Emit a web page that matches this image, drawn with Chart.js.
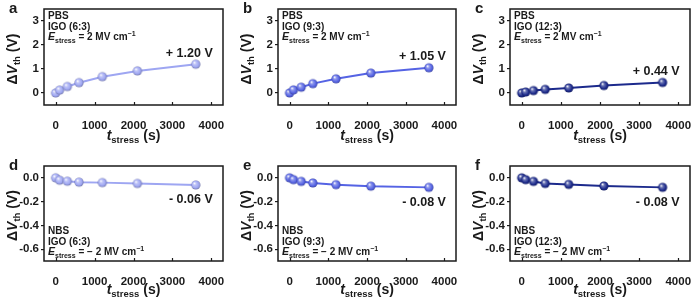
<!DOCTYPE html>
<html><head><meta charset="utf-8">
<script src="https://cdn.jsdelivr.net/npm/chart.js@4/dist/chart.umd.min.js"></script>
<style>
html,body{margin:0;padding:0;background:#fff;}
#wrap{position:relative;width:700px;height:301px;overflow:hidden;}
canvas{position:absolute;}
</style></head>
<body><div id="wrap">
<canvas id="ca" width="233" height="150" style="left:0;top:0"></canvas>
<canvas id="cb" width="232" height="150" style="left:234px;top:0"></canvas>
<canvas id="cc" width="234" height="150" style="left:466px;top:0"></canvas>
<canvas id="cd" width="233" height="144" style="left:0;top:157px"></canvas>
<canvas id="ce" width="232" height="144" style="left:234px;top:157px"></canvas>
<canvas id="cf" width="234" height="144" style="left:466px;top:157px"></canvas>
</div>
<script>
// ---- data ----
const stressTimes = [0, 100, 300, 600, 1200, 2100, 3600];
const pbs_6_3  = [0, 0.12, 0.27, 0.43, 0.68, 0.92, 1.20];
const pbs_9_3  = [0, 0.13, 0.24, 0.39, 0.59, 0.83, 1.05];
const pbs_12_3 = [0, 0.04, 0.10, 0.15, 0.21, 0.31, 0.44];
const nbs_6_3  = [0, -0.02, -0.028, -0.036, -0.04, -0.047, -0.06];
const nbs_9_3  = [0, -0.015, -0.03, -0.043, -0.057, -0.07, -0.08];
const nbs_12_3 = [0, -0.015, -0.03, -0.047, -0.055, -0.068, -0.08];
const xTicks = [0, 1000, 2000, 3000, 4000];
const yTicksPBS = [0, 1, 2, 3];
const yTicksNBS = [0, -0.2, -0.4, -0.6];
const finalLabels = ['+ 1.20 V', '+ 1.05 V', '+ 0.44 V', '- 0.06 V', '- 0.08 V', '- 0.08 V'];
const panelLetters = ['a', 'b', 'c', 'd', 'e', 'f'];
const ratios = ['IGO (6:3)', 'IGO (9:3)', 'IGO (12:3)'];

const colors = ['#9ea6f2', '#5563e4', '#1c2a8c'];
const FONT = '"Liberation Sans", Arial, sans-serif';
const INK = '#1a1a1a';

function mix(hex, t, target) {
  const n = parseInt(hex.slice(1), 16);
  const r = (n >> 16) & 255, g = (n >> 8) & 255, b = n & 255;
  const m = (c) => Math.round(c + (target - c) * t);
  return `rgb(${m(r)},${m(g)},${m(b)})`;
}
function makeSphere(color, r) {
  const c = document.createElement('canvas');
  const s = Math.ceil(r * 2 + 2);
  c.width = s; c.height = s;
  const x = c.getContext('2d');
  const cx = s / 2, cy = s / 2;
  const g = x.createRadialGradient(cx - r * 0.35, cy - r * 0.4, r * 0.05, cx, cy, r);
  g.addColorStop(0, '#ffffff');
  g.addColorStop(0.3, mix(color, 0.35, 255));
  g.addColorStop(0.75, color);
  g.addColorStop(1, mix(color, 0.3, 0));
  x.fillStyle = g;
  x.beginPath(); x.arc(cx, cy, r, 0, Math.PI * 2); x.fill();
  return c;
}

function drawRich(ctx, x, y, segs, align) {
  let total = 0;
  segs.forEach(s => { ctx.font = s.font; total += ctx.measureText(s.t).width; });
  let cx = align === 'center' ? x - total / 2 : (align === 'right' ? x - total : x);
  ctx.textAlign = 'left';
  segs.forEach(s => {
    ctx.font = s.font;
    ctx.fillText(s.t, cx, y + (s.dy || 0));
    cx += ctx.measureText(s.t).width;
  });
}

function makePanel(id, idx, values, isPBS) {
  const col = colors[idx % 3];
  const sphere = makeSphere(col, 4.6);
  const ctx = document.getElementById(id);
  const insetPlugin = {
    id: 'inset',
    afterDraw(chart) {
      const c = chart.ctx, a = chart.chartArea;
      c.save();
      // box
      c.strokeStyle = INK; c.lineWidth = 1.5;
      c.strokeRect(a.left, a.top, a.right - a.left, a.bottom - a.top);
      // inward x ticks
      const xs = chart.scales.x;
      c.lineWidth = 1.2;
      xTicks.forEach(v => {
        const px = Math.round(xs.getPixelForValue(v)) + 0.5;
        c.beginPath(); c.moveTo(px, a.bottom); c.lineTo(px, a.bottom - 3); c.stroke();
      });
      c.fillStyle = INK;
      c.textBaseline = 'alphabetic';
      // panel letter
      c.font = 'bold 15px ' + FONT;
      c.textAlign = 'left';
      c.fillText(panelLetters[idx], 9, 13);
      // inset text
      const bx = a.left + 4;
      const by = isPBS ? a.top + 10 : a.bottom - 27;
      c.font = 'bold 10px ' + FONT;
      c.fillText(isPBS ? 'PBS' : 'NBS', bx, by);
      c.fillText(ratios[idx % 3], bx, by + 10.5);
      drawRich(c, bx, by + 21, [
        {t: 'E', font: 'italic bold 10.5px ' + FONT},
        {t: 'stress', font: 'bold 7px ' + FONT, dy: 2.5},
        {t: isPBS ? ' = 2 MV cm' : ' = \u2212 2 MV cm', font: 'bold 10px ' + FONT},
        {t: '\u22121', font: 'bold 7px ' + FONT, dy: -4}
      ], 'left');
      // final value label
      const meta = chart.getDatasetMeta(0);
      const last = meta.data[meta.data.length - 1];
      c.font = 'bold 12.5px ' + FONT;
      c.textAlign = 'right';
      c.textBaseline = 'middle';
      c.fillText(finalLabels[idx], last.x + 17, isPBS ? last.y - 11 : last.y + 15);
      // x title
      c.textBaseline = 'alphabetic';
      const xc = (a.left + a.right) / 2;
      drawRich(c, xc, isPBS ? 140 : 137, [
        {t: 't', font: 'italic bold 14px ' + FONT},
        {t: 'stress', font: 'bold 9.5px ' + FONT, dy: 3},
        {t: ' (s)', font: 'bold 14px ' + FONT}
      ], 'center');
      // y title
      c.translate(17, (a.top + a.bottom) / 2 + 2);
      c.rotate(-Math.PI / 2);
      drawRich(c, 0, 0, [
        {t: '\u0394', font: 'bold 14px ' + FONT},
        {t: 'V', font: 'italic bold 14px ' + FONT},
        {t: 'th', font: 'bold 9.5px ' + FONT, dy: 3},
        {t: ' (V)', font: 'bold 14px ' + FONT}
      ], 'center');
      c.restore();
    }
  };
  const yTicks = isPBS ? yTicksPBS : yTicksNBS;
  return new Chart(ctx, {
    type: 'line',
    data: {
      labels: stressTimes,
      datasets: [{
        data: stressTimes.map((t, i) => ({x: t, y: values[i]})),
        borderColor: col,
        borderWidth: 2,
        pointStyle: sphere,
        pointRadius: 4.6,
        pointHoverRadius: 4.6,
        tension: 0,
        fill: false
      }]
    },
    options: {
      responsive: false,
      animation: false,
      devicePixelRatio: 1,
      events: [],
      layout: { autoPadding: false, padding: { top: 9, right: 10, left: 0, bottom: 0 } },
      plugins: { legend: { display: false }, tooltip: { enabled: false } },
      scales: {
        x: {
          type: 'linear', min: -300, max: 4300,
          afterBuildTicks: s => { s.ticks = xTicks.map(v => ({value: v})); },
          afterFit: s => { s.height = isPBS ? 45 : 40; },
          grid: { display: false },
          border: { display: false },
          ticks: { padding: 6, color: INK, font: { family: FONT, size: 11.5, weight: 'bold' }, maxRotation: 0, autoSkip: false, callback: v => String(v) }
        },
        y: {
          min: isPBS ? -0.5 : -0.7, max: isPBS ? 3.5 : 0.1,
          afterBuildTicks: s => { s.ticks = yTicks.map(v => ({value: v})); },
          afterFit: s => { s.width = 44; },
          grid: { display: true, drawOnChartArea: false, drawTicks: true, tickLength: 3, color: INK, lineWidth: 1.2 },
          border: { display: false },
          ticks: { padding: 2, color: INK, font: { family: FONT, size: 11.5, weight: 'bold' }, autoSkip: false,
            callback: v => isPBS ? String(v) : (v === 0 ? '0.0' : v.toFixed(1)) }
        }
      }
    },
    plugins: [insetPlugin]
  });
}

makePanel('ca', 0, pbs_6_3, true);
makePanel('cb', 1, pbs_9_3, true);
makePanel('cc', 2, pbs_12_3, true);
makePanel('cd', 3, nbs_6_3, false);
makePanel('ce', 4, nbs_9_3, false);
makePanel('cf', 5, nbs_12_3, false);
</script>
</body></html>
